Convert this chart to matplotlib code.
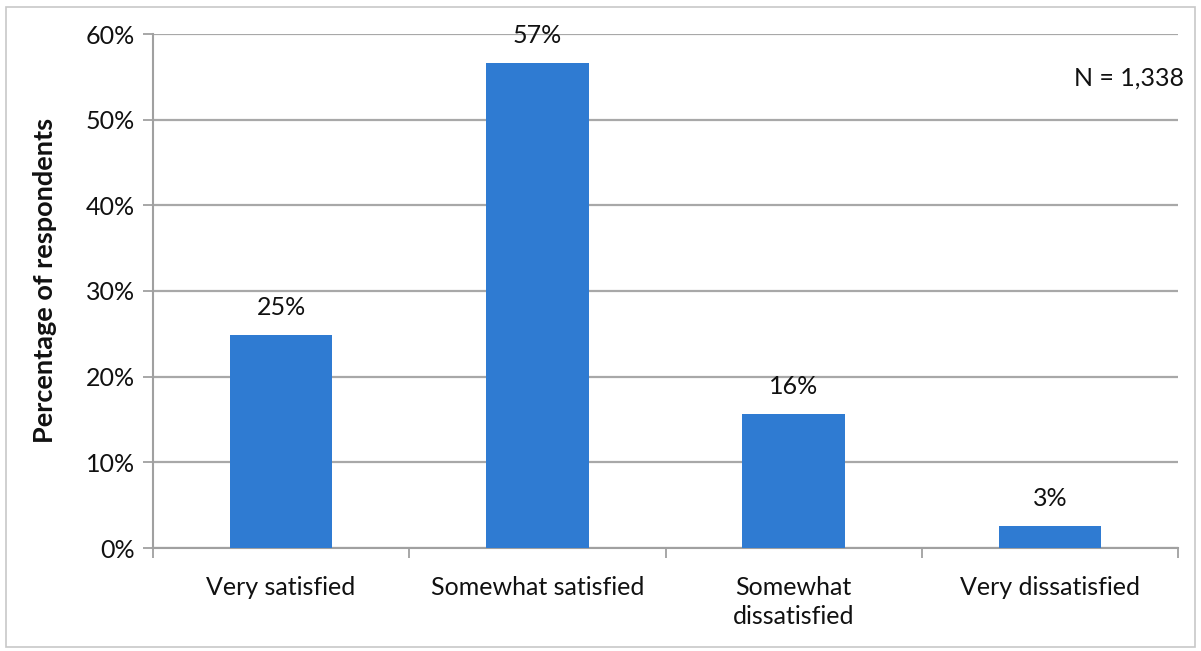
import matplotlib
matplotlib.use("Agg")
import matplotlib.pyplot as plt
from matplotlib.patches import Rectangle

categories = ["Very satisfied", "Somewhat satisfied", "Somewhat\ndissatisfied", "Very dissatisfied"]
values = [24.9, 56.6, 15.7, 2.6]
yticks = [0, 10, 20, 30, 40, 50, 60]
ylabel = "Percentage of respondents"
note = "N = 1,338"

plt.rcParams['font.family'] = ['Lato', 'DejaVu Sans']
FS = 18

fig = plt.figure(figsize=(12.01, 6.51), dpi=100)
ax = fig.add_axes([153/1201, 1-548/651, (1178-153)/1201, (548-34)/651])

x = list(range(len(categories)))
bar_color = "#2f7bd2"
ax.bar(x, values, width=0.4, color=bar_color, zorder=3)
for xi, v in zip(x, values):
    ax.text(xi, v + 3.2, f"{v:.0f}%", ha="center", va="center", fontsize=FS, color="#111111")

ax.set_xlim(-0.5, len(categories) - 0.5)
ax.set_ylim(0, 60)
ax.set_yticks(yticks)
ax.set_yticklabels([f"{t}%" for t in yticks], fontsize=FS, color="#111111")
ax.yaxis.grid(True, color="#a8a8a8", linewidth=1.6, zorder=0)
ax.set_axisbelow(True)

ax.set_xticks([i + 0.5 for i in range(-1, len(categories))], minor=False)
ax.set_xticklabels([])
ax.set_xticks(x, minor=True)
ax.set_xticklabels(categories, minor=True, fontsize=FS, color="#111111", linespacing=1.35)
ax.tick_params(axis="x", which="minor", length=0, pad=20)
ax.tick_params(axis="x", which="major", length=7, width=1.3, color="#a0a0a0", direction="out")
ax.tick_params(axis="y", length=7, width=1.3, color="#a0a0a0", direction="out", pad=6)

for s in ["top", "right"]:
    ax.spines[s].set_visible(False)
for s in ["left", "bottom"]:
    ax.spines[s].set_color("#a0a0a0")
    ax.spines[s].set_linewidth(1.5)

fig.text(45/1201, 1-280/651, ylabel, rotation=90, ha="center", va="center",
         fontsize=19.5, fontweight="bold", color="#111111")
fig.text(1184/1201, 1-78/651, note, ha="right", va="center",
         fontsize=FS, color="#111111")

fig.patches.append(Rectangle((6/1201, 4/651), 1189/1201, 640/651, transform=fig.transFigure,
                             fill=False, edgecolor="#c8c8c8", linewidth=1.2))

fig.savefig("out.png", dpi=100)
